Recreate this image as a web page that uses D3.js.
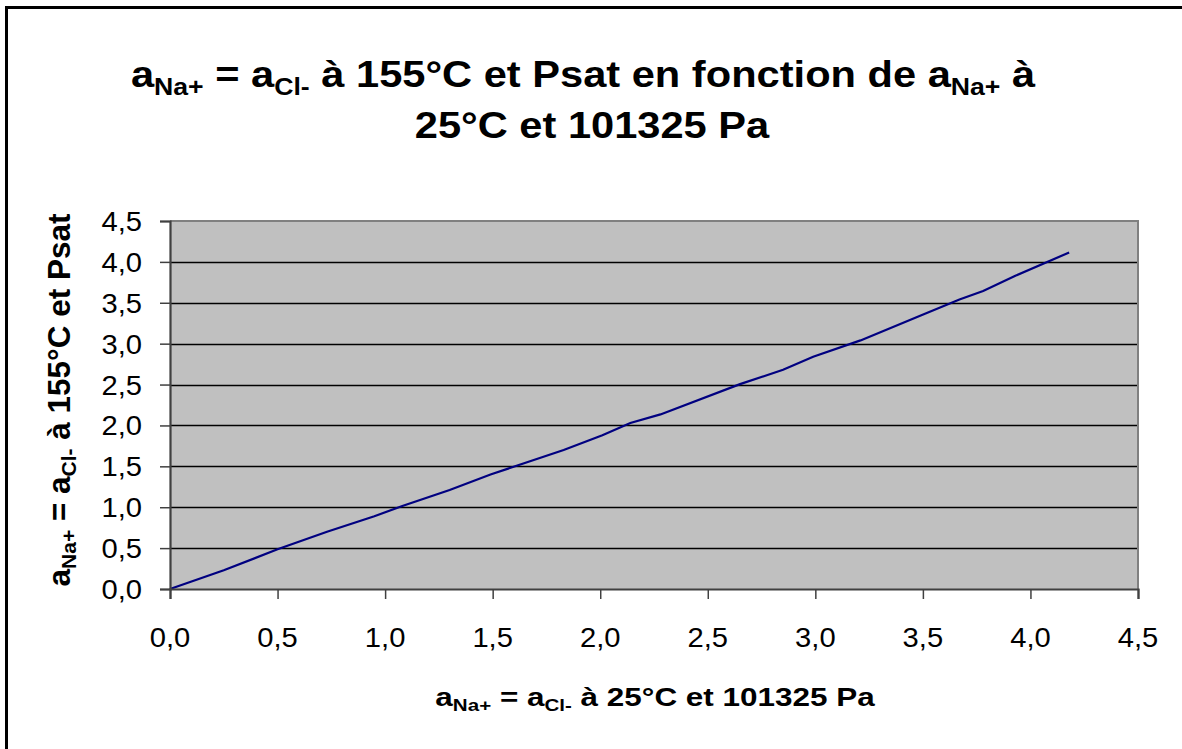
<!DOCTYPE html>
<html><head><meta charset="utf-8">
<script src="https://cdn.jsdelivr.net/npm/d3@7"></script>
<style>body{margin:0;background:#fff}svg{display:block}text{font-family:"Liberation Sans",Arial,sans-serif}</style>
</head><body>
<svg id="c" width="1182" height="749"></svg>
<script>
const xValues = [0, 0.25, 0.50, 0.73, 0.95, 1.08, 1.30, 1.49, 1.83, 2.01, 2.14, 2.28, 2.65, 2.85, 2.99, 3.21, 3.49, 3.67, 3.78, 3.93, 4.18];
const yValues = [0, 0.23, 0.485, 0.70, 0.89, 1.015, 1.21, 1.40, 1.70, 1.88, 2.03, 2.135, 2.505, 2.68, 2.84, 3.04, 3.345, 3.54, 3.645, 3.83, 4.115];
const tickValues = [0,0.5,1,1.5,2,2.5,3,3.5,4,4.5];
const tickLabels = ["0,0","0,5","1,0","1,5","2,0","2,5","3,0","3,5","4,0","4,5"];
const titleLine1 = [["a",0],["Na+",1],[" = a",0],["Cl-",1],[" à 155°C et Psat en fonction de a",0],["Na+",1],[" à",0]];
const titleLine2 = [["25°C et 101325 Pa",0]];
const xTitle = [["a",0],["Na+",1],[" = a",0],["Cl-",1],[" à 25°C et 101325 Pa",0]];
const yTitle = [["a",0],["Na+",1],[" = a",0],["Cl-",1],[" à 155°C et Psat",0]];

const svg = d3.select("#c");
const L = 170, R = 1138, T = 221, B = 589;
const x = d3.scaleLinear().domain([0,4.5]).range([L,R]);
const y = d3.scaleLinear().domain([0,4.5]).range([B,T]);

// outer border (left & top visible)
svg.append("rect").attr("x",6.5).attr("y",7.5).attr("width",1300).attr("height",900)
  .attr("fill","none").attr("stroke","#000").attr("stroke-width",3);

// plot area
svg.append("rect").attr("x",L).attr("y",T).attr("width",R-L).attr("height",B-T).attr("fill","#c0c0c0");
svg.append("g").selectAll("line").data(tickValues.slice(1,-1)).join("line")
  .attr("x1",L).attr("x2",R).attr("y1",d=>Math.round(y(d))+0.5).attr("y2",d=>Math.round(y(d))+0.5)
  .attr("stroke","#000").attr("stroke-width",1.3);
svg.append("path").attr("d",`M${L},${T} H${R} V${B}`).attr("fill","none").attr("stroke","#808080").attr("stroke-width",2);

// series
const pts = xValues.map((v,i)=>[v,yValues[i]]);
svg.append("path").datum(pts).attr("d",d3.line().x(d=>x(d[0])).y(d=>y(d[1])))
  .attr("fill","none").attr("stroke","#000080").attr("stroke-width",2.2);

// axes
const xAxis = d3.axisBottom(x).tickValues(tickValues).tickSize(10).tickFormat(()=>"");
const yAxis = d3.axisLeft(y).tickValues(tickValues).tickSize(10).tickFormat(()=>"");
const gx = svg.append("g").attr("transform",`translate(0,${B})`).call(xAxis);
const gy = svg.append("g").attr("transform",`translate(${L},0)`).call(yAxis);
[gx,gy].forEach(g=>{g.select(".domain").attr("stroke","#404040").attr("stroke-width",2.2);
  g.selectAll(".tick line").attr("stroke","#404040").attr("stroke-width",1.5);});

function rich(g, parts, size, subSize){
  const t = g.append("text").attr("font-size",size).attr("font-weight","bold").attr("fill","#000");
  let shifted=false;
  parts.forEach(([s,sub])=>{
    const ts = t.append("tspan").text(s);
    if(sub){ ts.attr("font-size",subSize).attr("dy",shifted?0:size*0.2); shifted=true; }
    else { ts.attr("dy",shifted?-size*0.2:0); shifted=false; }
  });
  return t;
}

// tick labels
const TSX = 1.08;
svg.append("g").selectAll("text").data(tickValues).join("text")
  .attr("transform",d=>`translate(${x(d)},647) scale(${TSX},1)`).attr("text-anchor","middle")
  .attr("font-size",27).text((d,i)=>tickLabels[i]);
svg.append("g").selectAll("text").data(tickValues).join("text")
  .attr("transform",d=>`translate(142,${y(d)+10}) scale(${TSX},1)`).attr("text-anchor","end")
  .attr("font-size",27).text((d,i)=>tickLabels[i]);

// titles
rich(svg.append("g").attr("transform",`translate(583,87) scale(1.11,1)`), titleLine1, 37.5, 24).attr("text-anchor","middle");
rich(svg.append("g").attr("transform",`translate(592,138) scale(1.11,1)`), titleLine2, 37.5, 24).attr("text-anchor","middle");
rich(svg.append("g").attr("transform",`translate(655,706) scale(1.21,1)`), xTitle, 26, 17).attr("text-anchor","middle");
rich(svg.append("g").attr("transform",`translate(70,400) scale(0.97,1) rotate(-90)`), yTitle, 31.5, 21).attr("text-anchor","middle");
</script>
</body></html>
